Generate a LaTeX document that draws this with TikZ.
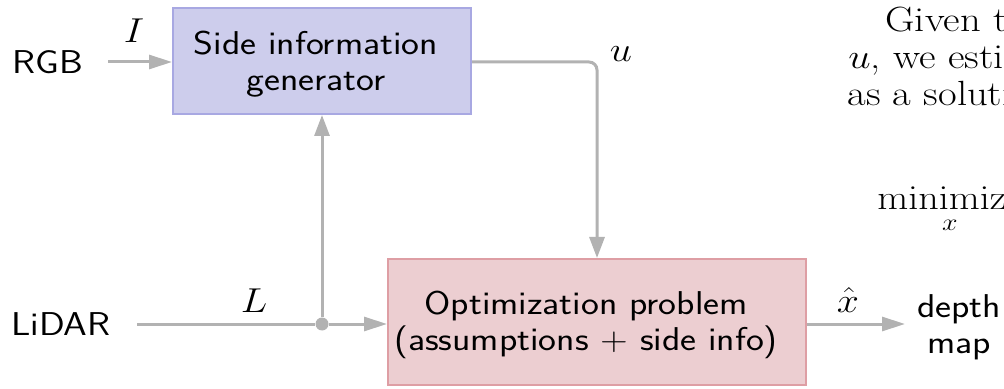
\documentclass[tikz,border=0pt]{standalone}
\usepackage{amsmath}
\usetikzlibrary{arrows.meta}

\definecolor{flowgray}{RGB}{178,178,178}
\definecolor{genfill}{RGB}{205,205,236}
\definecolor{gendraw}{RGB}{168,168,226}
\definecolor{optfill}{RGB}{236,206,209}
\definecolor{optdraw}{RGB}{222,158,164}

\newcommand{\slidefont}{\fontsize{16.5}{18}\selectfont}
\newcommand{\prosefont}{\fontsize{17.5}{19}\selectfont}

\begin{document}
\begin{tikzpicture}[
    x=0.5pt, y=-0.5pt,
    txt/.style={inner sep=0pt, xscale=1.15, font=\slidefont},
    sanstxt/.style={txt, font=\slidefont\sffamily},
    prose/.style={inner sep=0pt, xscale=1.16, font=\prosefont, anchor=base west},
    blockbox/.style={draw, line width=1pt, inner sep=0pt},
    genbox/.style={blockbox, draw=gendraw, fill=genfill,
                   minimum width=149pt, minimum height=53pt},
    optbox/.style={blockbox, draw=optdraw, fill=optfill,
                   minimum width=209pt, minimum height=63pt},
    flow/.style={draw=flowgray, line width=1.5pt},
    harrow/.style={flow, -{Triangle[length=11.5pt,width=7pt]}},
    varrow/.style={flow, -{Triangle[length=10.5pt,width=7.5pt]}},
    junction/.style={circle, fill=flowgray, inner sep=0pt, minimum size=6.5pt},
  ]
  \useasboundingbox (0,0) rectangle (1004,389);
  \clip (0,0) rectangle (1004,389);

  % inputs
  \node[sanstxt] (rgb) at (48,62) {RGB};
  \node[sanstxt] (lidar) at (61,324) {LiDAR};

  % processing blocks
  \node[genbox] (gen) at (322,61) {};
  \node[sanstxt, align=center] (gentxt) at (316,64) {Side information\\generator};
  \node[optbox] (opt) at (597,322) {};
  \node[sanstxt, align=center] (opttxt) at (586,325)
       {Optimization problem\\(assumptions + side info)};

  % output
  \node[sanstxt, align=center] (depth) at (959,327) {depth\\map};

  % connector helpers
  \coordinate (rgbout) at (108,62);
  \coordinate (lidarout) at (137,324);
  \coordinate (corner) at (597,62);
  \node[junction] (split) at (322,324) {};
  \coordinate (xout) at (905,324);

  % connectors
  \draw[harrow] (rgbout) -- (gen.west |- rgbout);
  \draw[flow] (lidarout) -- (split);
  \draw[harrow] (split) -- (opt.west |- split);
  \draw[varrow] (split) -- (gen.south -| split);
  \draw[varrow, rounded corners=4pt] (gen.east |- corner) -- (corner) -- (opt.north);
  \draw[harrow] (opt.east |- xout) -- (xout);

  % signal labels
  \node[txt, anchor=base] (lblI) at (134,43) {$I$};
  \node[txt, anchor=base] (lblu) at (621,62) {$u$};
  \node[txt, anchor=base] (lblL) at (254,312) {$L$};
  \node[txt, anchor=base] (lblx) at (848,312) {$\hat{x}$};

  % accompanying explanation
  \node[prose] (p1) at (885,32) {Given the};
  \node[prose] (p2) at (848,69) {$u$, we estimate};
  \node[prose] (p3) at (847,106) {as a solution};
  \node[prose] (p4) at (877,210)
       {$\displaystyle\operatorname*{minimize}_{x}$};
\end{tikzpicture}
\end{document}
